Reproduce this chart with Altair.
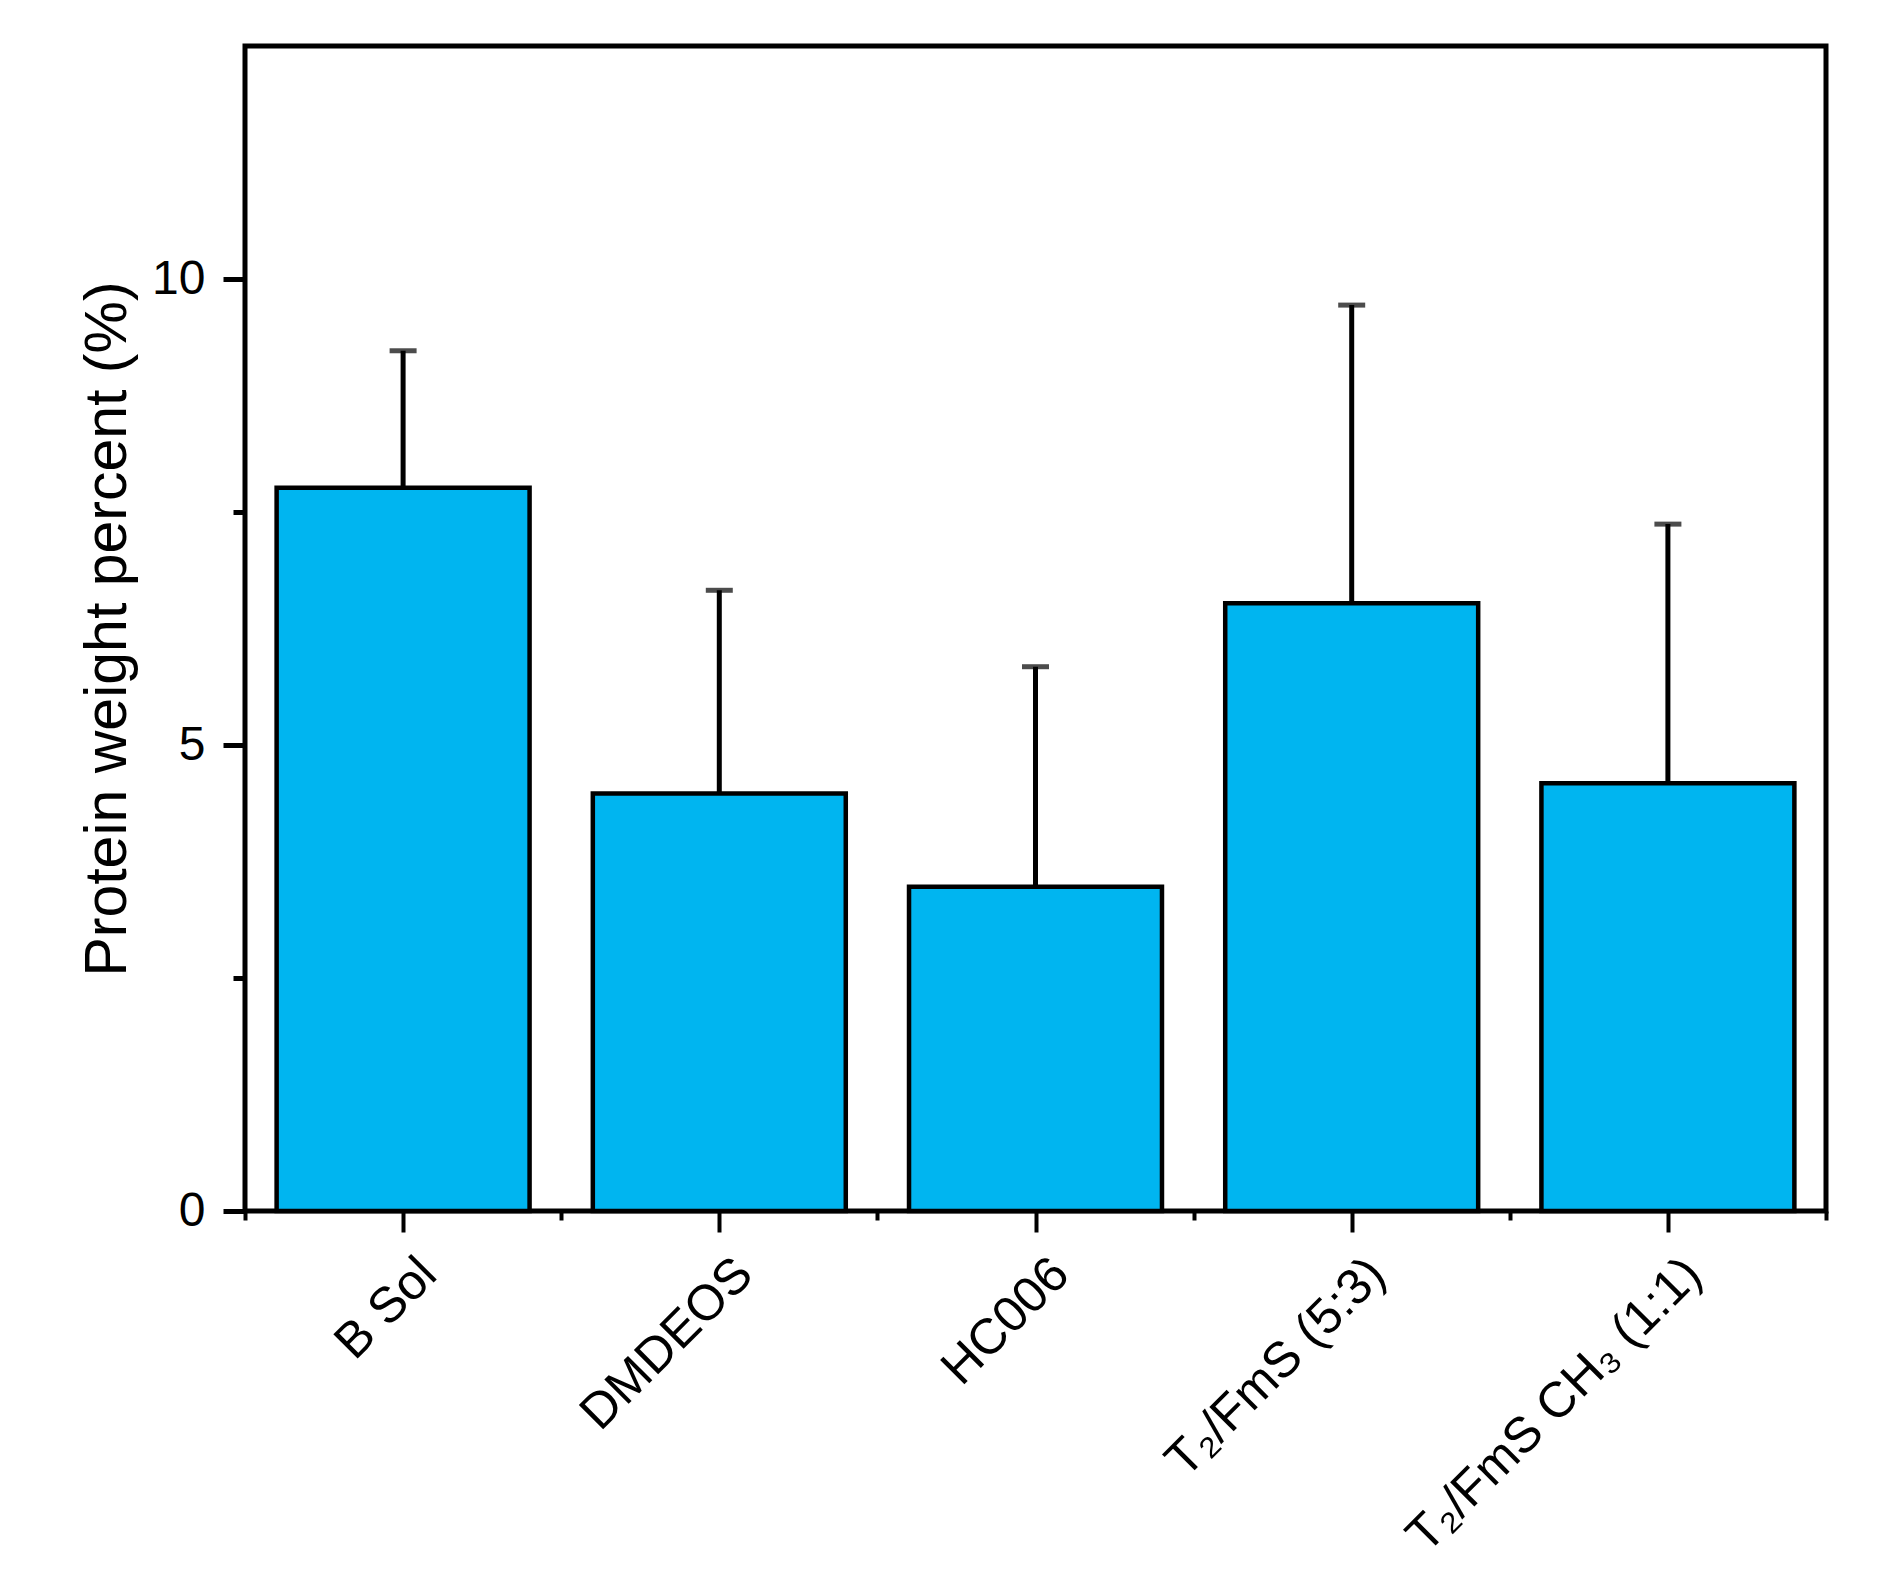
import altair as alt
import pandas as pd

categories = ["B Sol", "DMDEOS", "HC006", "T\u2082/FmS (5:3)", "T\u2082/FmS CH\u2083 (1:1)"]
means = [7.76, 4.48, 3.48, 6.52, 4.59]
errors = [1.47, 2.18, 2.36, 3.20, 2.78]
y_ticks = [0, 2.5, 5, 7.5, 10]
x_ticks = [-0.5, 0, 0.5, 1, 1.5, 2, 2.5, 3, 3.5, 4, 4.5]

df = pd.DataFrame({
    "cat": categories,
    "idx": list(range(len(categories))),
    "mean": means,
    "err": errors,
})

FONT = "Liberation Sans"
FILL = "#00B5F0"

label_list = "[" + ",".join("'" + c + "'" for c in categories) + "]"
x_label_expr = f"datum.value % 1 === 0 ? {label_list}[datum.value] : ''"

x_scale = alt.Scale(domain=[-0.5, 4.5], nice=False, zero=False)
y_scale = alt.Scale(domain=[0, 12.5], nice=False)

x_axis = alt.Axis(
    values=x_ticks, title=None, domain=False, grid=False,
    labelExpr=x_label_expr, labelAngle=-45, labelAlign="right", labelBaseline="middle",
    labelFont=FONT, labelFontSize=50, labelColor="black", labelLimit=0,
    labelPadding=34, labelOffset=25, labelFlush=False, labelOverlap=False,
    tickColor="black", tickWidth=4,
    tickSize={"condition": {"test": "datum.value % 1 === 0", "value": 21}, "value": 9},
)
y_axis = alt.Axis(
    values=y_ticks, title="Protein weight percent (%)", domain=False, grid=False,
    labelExpr="datum.value % 5 === 0 ? '' + datum.value : ''",
    labelFont=FONT, labelFontSize=48, labelColor="black", labelPadding=18,
    titleFont=FONT, titleFontSize=59, titleFontWeight="normal", titleColor="black",
    titlePadding=14,
    tickColor="black", tickWidth=5,
    tickSize={"condition": {"test": "datum.value % 5 === 0", "value": 22}, "value": 12},
)

base = alt.Chart(df).transform_calculate(
    left="datum.idx - 0.4", right="datum.idx + 0.4", top="datum.mean + datum.err"
)

bars = base.mark_bar(fill=FILL, stroke="black", strokeWidth=4.5).encode(
    x=alt.X("left:Q", scale=x_scale, axis=x_axis),
    x2="right:Q",
    y=alt.Y("mean:Q", scale=y_scale, axis=y_axis),
    y2=alt.datum(0),
)

rules = base.mark_rule(color="black", strokeWidth=5).encode(
    x=alt.X("idx:Q", scale=x_scale),
    y=alt.Y("mean:Q", scale=y_scale),
    y2="top:Q",
)

caps = base.mark_tick(color="black", orient="horizontal", size=27, thickness=5).encode(
    x=alt.X("idx:Q", scale=x_scale),
    y=alt.Y("top:Q", scale=y_scale),
)

chart = alt.layer(bars, rules, caps).properties(
    width=1581, height=1165,
    autosize=alt.AutoSizeParams(type="none"),
    padding={"left": 237, "top": 38, "right": 47, "bottom": 360},
    background="white",
).configure_view(stroke="black", strokeWidth=5)

chart.save("out.html", embed_options={"renderer": "svg", "actions": False})
